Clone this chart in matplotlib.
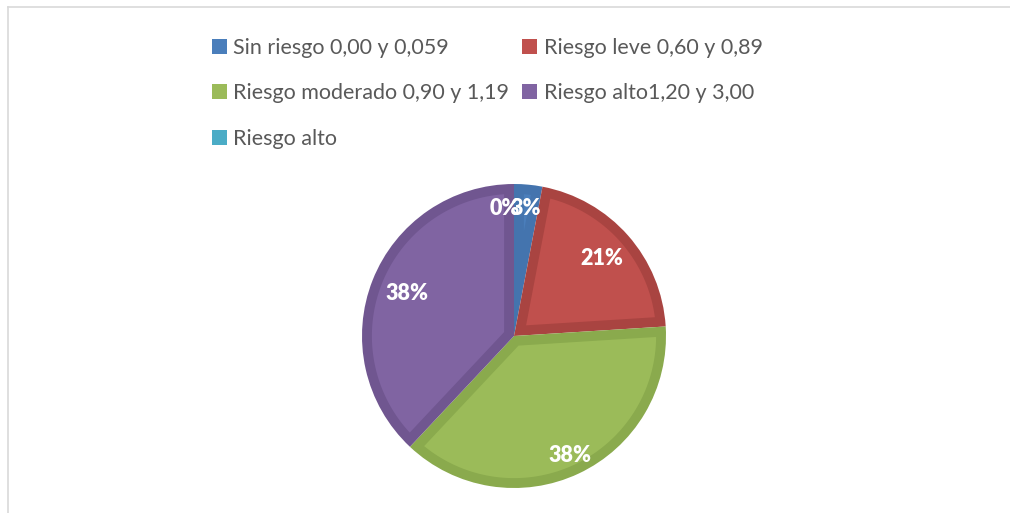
import matplotlib
matplotlib.use("Agg")
import matplotlib.pyplot as plt
import numpy as np
from matplotlib.patches import Patch, Polygon

categories = ["Sin riesgo 0,00 y 0,059", "Riesgo leve 0,60 y 0,89",
              "Riesgo moderado 0,90 y 1,19", "Riesgo alto1,20 y 3,00", "Riesgo alto"]
values = [3, 21, 38, 38, 0]
pct_labels = ["3%", "21%", "38%", "38%", "0%"]

fills = ["#4A7EBB", "#C0504D", "#9BBB59", "#8064A2", "#4BACC6"]
edges = ["#4474AE", "#A94441", "#8AAA4D", "#705690", "#3F97AE"]
label_r = [0.84, 0.77, 0.87, 0.76, 0.84]

W, H = 1010, 513
fig = plt.figure(figsize=(W / 100, H / 100), dpi=100)
fig.patch.set_facecolor("white")

# chart frame
fig.add_artist(plt.Line2D([8 / W, 8 / W], [0, 1 - 7 / H], color="#D9D9D9", lw=1.2, transform=fig.transFigure))
fig.add_artist(plt.Line2D([8 / W, 1], [1 - 7 / H, 1 - 7 / H], color="#D9D9D9", lw=1.2, transform=fig.transFigure))

cx, cy, r = 514, 336, 152
ax = fig.add_axes([(cx - r) / W, (H - cy - r) / H, 2 * r / W, 2 * r / H])
wedges, _ = ax.pie(values, colors=edges, startangle=90, counterclock=False, radius=1.0,
                   wedgeprops=dict(linewidth=0))

d = 0.065  # inner border width (axes units)
for w, fc, v in zip(wedges, fills, values):
    if v == 0:
        w.set_visible(False)
        continue
    t1, t2 = np.deg2rad(w.theta1), np.deg2rad(w.theta2)
    half = (t2 - t1) / 2
    b = (t1 + t2) / 2
    s = d / np.sin(half)
    P = s * np.array([np.cos(b), np.sin(b)])
    Ri = 1.0 - d
    pts_ang = []
    ok = True
    for t in (t1, t2):
        u = np.array([np.cos(t), np.sin(t)])
        pu = P @ u
        disc = pu ** 2 - (P @ P - Ri ** 2)
        if disc <= 0:
            ok = False
            break
        tt = -pu + np.sqrt(disc)
        if tt <= 0:
            ok = False
            break
        q = P + tt * u
        pts_ang.append(np.arctan2(q[1], q[0]))
    if not ok:
        continue
    a1, a2 = pts_ang
    if a2 < a1:
        a2 += 2 * np.pi
    arc = np.linspace(a1, a2, 200)
    poly = np.vstack([P, np.column_stack([Ri * np.cos(arc), Ri * np.sin(arc)])])
    ax.add_patch(Polygon(poly, closed=True, facecolor=fc, edgecolor="none"))

ax.set_xlim(-1.0, 1.0)
ax.set_ylim(-1.0, 1.0)
ax.set_aspect("equal")
ax.axis("off")

total = sum(values)
cum = 0
for v, lab, rr in zip(values, pct_labels, label_r):
    mid = (cum + v / 2) / total
    cum += v
    ang = np.deg2rad(90 - 360 * mid)
    x, y = rr * np.cos(ang), rr * np.sin(ang)
    if lab == "0%":
        x -= 0.06
    ax.text(x, y, lab, color="white", fontsize=15.5, fontweight="heavy",
            ha="center", va="center", family="Lato")

order = [0, 2, 4, 1, 3]
handles = [Patch(facecolor=fills[i], edgecolor="none") for i in order]
labels = [categories[i] for i in order]
leg = fig.legend(handles, labels, ncol=2, loc="upper left",
                 bbox_to_anchor=(203 / W, 1 - 29 / H), frameon=False,
                 prop=dict(family="Lato", size=15.5), labelcolor="#595959",
                 handlelength=0.7, handleheight=0.7, handletextpad=0.3,
                 columnspacing=0.6, labelspacing=1.2, borderaxespad=0)

fig.savefig("out.png", dpi=100)
